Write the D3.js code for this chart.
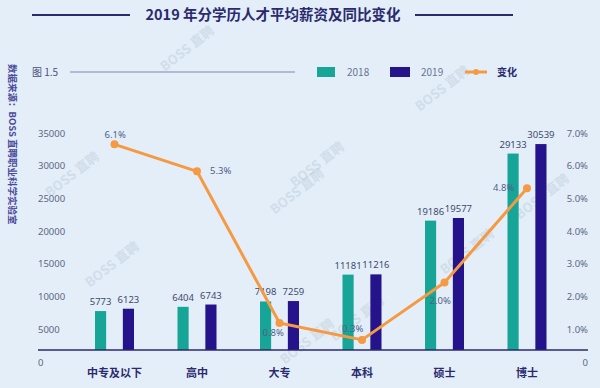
<!DOCTYPE html>
<html>
<head>
<meta charset="utf-8">
<script src="https://cdn.jsdelivr.net/npm/d3@7"></script>
<style>
  body { margin: 0; background: #e3eef8; }
  svg { display: block; font-family: "Noto Sans CJK SC", "Noto Sans", sans-serif; }
</style>
</head>
<body>
<script>
// data
var categories = ['中专及以下', '高中', '大专', '本科', '硕士', '博士'];
var years = ['2018', '2019'];
var salary2018 = [5773, 6404, 7198, 11181, 19186, 29133];
var salary2019 = [6123, 6743, 7259, 11216, 19577, 30539];
var change = [6.1, 5.3, 0.8, 0.3, 2.0, 4.8];
var leftTicks = [0, 5000, 10000, 15000, 20000, 25000, 30000, 35000];
var rightTicks = [0, 1, 2, 3, 4, 5, 6, 7];

// label placement for the percent labels (dx, dy from the point)
var pctLabelPos = [[-10, -6], [13, 3], [-17, 13], [-20, -8], [-15, 21], [-34, 3]];

var W = 600, H = 388;
var teal = '#17a597', navy = '#24138a', orange = '#f59a42';

var svg = d3.select('body').append('svg')
    .attr('width', W).attr('height', H);

// watermarks
var marks = [[190, 52], [445, 92], [75, 178], [300, 195], [115, 268], [470, 255], [320, 168], [360, 322], [310, 345], [545, 200]];
svg.selectAll('text.wm').data(marks).enter().append('text')
    .attr('class', 'wm')
    .attr('transform', function(d){ return 'translate(' + d[0] + ',' + d[1] + ') rotate(-38)'; })
    .attr('text-anchor', 'middle')
    .style('font-size', '13px').style('font-weight', 'bold')
    .style('fill', '#b8c6d6').style('opacity', 0.4)
    .text('BOSS 直聘');

// title
svg.append('text')
    .attr('x', 273).attr('y', 20)
    .attr('text-anchor', 'middle')
    .style('font-size', '14.5px').style('font-weight', 'bold').style('fill', '#2b2a6e')
    .text('2019 年分学历人才平均薪资及同比变化');
svg.append('line').attr('x1', 32).attr('x2', 130).attr('y1', 15).attr('y2', 15)
    .style('stroke', '#2b2a6e').style('stroke-width', 2);
svg.append('line').attr('x1', 415).attr('x2', 513).attr('y1', 15).attr('y2', 15)
    .style('stroke', '#2b2a6e').style('stroke-width', 2);

// source, vertical
svg.append('text')
    .attr('transform', 'translate(9,64) rotate(90)')
    .style('font-size', '9.5px').style('font-weight', 'bold').style('fill', '#4b4a9c')
    .text('数据来源：BOSS 直聘职业科学实验室');

// figure number + legend
svg.append('text').attr('x', 32).attr('y', 76)
    .style('font-size', '10px').style('fill', '#4a4f7a').text('图 1.5');
svg.append('line').attr('x1', 70).attr('x2', 295).attr('y1', 72).attr('y2', 72)
    .style('stroke', '#7f86a8').style('stroke-width', 1);

var legend = svg.append('g');
legend.append('rect').attr('x', 317).attr('y', 67).attr('width', 18).attr('height', 10).style('fill', teal);
legend.append('text').attr('x', 347).attr('y', 76).style('font-size', '10px').style('fill', '#6b7390').text(years[0]);
legend.append('rect').attr('x', 390).attr('y', 67).attr('width', 20).attr('height', 10).style('fill', navy);
legend.append('text').attr('x', 421).attr('y', 76).style('font-size', '10px').style('fill', '#6b7390').text(years[1]);
legend.append('line').attr('x1', 465).attr('x2', 487).attr('y1', 72).attr('y2', 72)
    .style('stroke', orange).style('stroke-width', 3);
legend.append('circle').attr('cx', 476).attr('cy', 72).attr('r', 3).style('fill', orange);
legend.append('text').attr('x', 497).attr('y', 76).style('font-size', '10px').style('fill', '#2b2a6e').style('font-weight', 'bold').text('变化');

// scales
var x = d3.scaleBand().domain(categories).range([73.25, 568.25]);
var xSub = d3.scaleBand().domain(years).range([-19.5, 19.5]).paddingInner(0.6);
var y = d3.scaleLinear().domain([0, 35000]).range([350, 114]);
var yPct = d3.scaleLinear().domain([0, 7]).range([350, 114]);
// tick labels in the original sit a little below their grid values
var yTick = d3.scaleLinear().domain([0, 35000]).range([362, 133]);
var yTickPct = d3.scaleLinear().domain([0, 7]).range([362, 133]);

// left axis labels
var leftAxis = svg.append('g').attr('transform', 'translate(38,0)')
    .call(d3.axisRight(yTick).tickValues(leftTicks).tickSize(0).tickPadding(0).tickFormat(d3.format('d')));
leftAxis.select('.domain').remove();
leftAxis.selectAll('text').style('font-size', '9.5px').style('fill', '#5d6785').style('font-family', 'Noto Sans, sans-serif');

// right axis labels
var rightAxis = svg.append('g').attr('transform', 'translate(588,0)')
    .call(d3.axisLeft(yTickPct).tickValues(rightTicks).tickSize(0).tickPadding(0)
        .tickFormat(function(d){ return d === 0 ? '0' : d.toFixed(1) + '%'; }));
rightAxis.select('.domain').remove();
rightAxis.selectAll('text').style('font-size', '9.5px').style('fill', '#5d6785').style('font-family', 'Noto Sans, sans-serif');

// bars
var rows = categories.map(function(c, i){
    return {cat: c, values: [{year: years[0], v: salary2018[i]}, {year: years[1], v: salary2019[i]}]};
});
var groups = svg.selectAll('g.grp').data(rows).enter().append('g')
    .attr('class', 'grp')
    .attr('transform', function(d){ return 'translate(' + (x(d.cat) + x.bandwidth()/2) + ',0)'; });
groups.selectAll('rect').data(function(d){ return d.values; }).enter().append('rect')
    .attr('x', function(d){ return xSub(d.year); })
    .attr('width', xSub.bandwidth())
    .attr('y', function(d){ return y(d.v); })
    .attr('height', function(d){ return y(0) - y(d.v); })
    .style('fill', function(d){ return d.year === years[0] ? teal : navy; });
groups.selectAll('text.val').data(function(d){ return d.values; }).enter().append('text')
    .attr('class', 'val')
    .attr('x', function(d){ return xSub(d.year) + xSub.bandwidth()/2; })
    .attr('y', function(d){ return y(d.v) - 6; })
    .attr('text-anchor', 'middle')
    .style('font-size', '9.5px').style('fill', '#3f4a6e').style('font-family', 'Noto Sans, sans-serif')
    .text(function(d){ return d.v; });

// baseline
svg.append('line').attr('x1', 38).attr('x2', 588).attr('y1', y(0)).attr('y2', y(0))
    .style('stroke', '#2b2a6e').style('stroke-width', 1.5);

// category labels
svg.selectAll('text.cat').data(categories).enter().append('text')
    .attr('class', 'cat')
    .attr('x', function(d){ return x(d) + x.bandwidth()/2; })
    .attr('y', 377)
    .attr('text-anchor', 'middle')
    .style('font-size', '11px').style('font-weight', 'bold').style('fill', '#2b2a6e')
    .text(function(d){ return d; });

// change line
var line = d3.line()
    .x(function(d, i){ return x(categories[i]) + x.bandwidth()/2; })
    .y(function(d){ return yPct(d); });
svg.append('path').datum(change)
    .attr('d', line)
    .style('fill', 'none').style('stroke', orange).style('stroke-width', 3)
    .style('stroke-linejoin', 'round');
svg.selectAll('circle.pt').data(change).enter().append('circle')
    .attr('class', 'pt')
    .attr('cx', function(d, i){ return x(categories[i]) + x.bandwidth()/2; })
    .attr('cy', function(d){ return yPct(d); })
    .attr('r', 4)
    .style('fill', orange);
svg.selectAll('text.pct').data(change).enter().append('text')
    .attr('class', 'pct')
    .attr('x', function(d, i){ return x(categories[i]) + x.bandwidth()/2 + pctLabelPos[i][0]; })
    .attr('y', function(d, i){ return yPct(d) + pctLabelPos[i][1]; })
    .style('font-size', '9.5px').style('fill', '#4f5f8a').style('font-family', 'Noto Sans, sans-serif')
    .text(function(d){ return d.toFixed(1) + '%'; });
</script>
</body>
</html>
